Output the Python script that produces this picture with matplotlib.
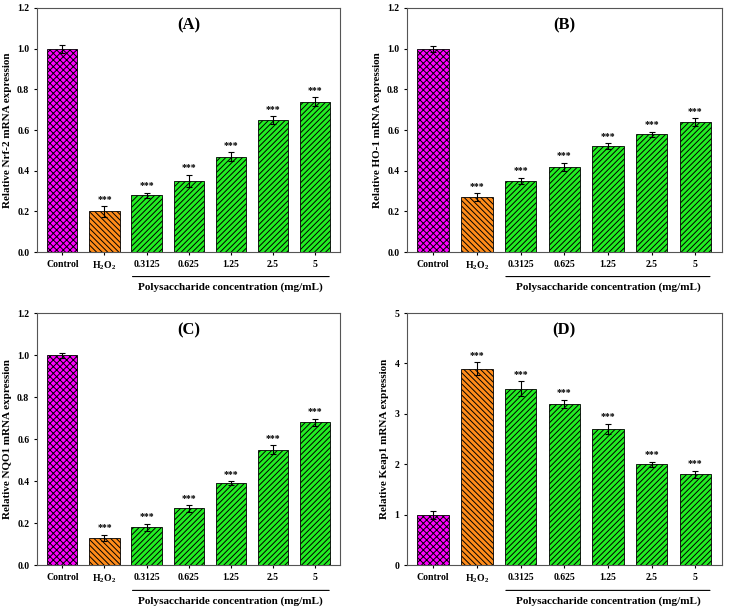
import matplotlib
matplotlib.use("Agg")
import matplotlib.pyplot as plt
import numpy as np

plt.rcParams.update({
    "font.family": ["Liberation Serif", "DejaVu Serif"],
    "font.weight": "bold",
    "hatch.linewidth": 0.7,
    "mathtext.fontset": "custom",
    "mathtext.rm": "Liberation Serif:bold",
    "mathtext.default": "rm",
})

groups = ["Control", "H$_2$O$_2$", "0.3125", "0.625", "1.25", "2.5", "5"]

nrf2 = [1.00, 0.20, 0.28, 0.35, 0.47, 0.65, 0.74]
nrf2_err = [0.02, 0.025, 0.012, 0.03, 0.02, 0.018, 0.022]
ho1 = [1.00, 0.27, 0.35, 0.42, 0.52, 0.58, 0.64]
ho1_err = [0.015, 0.02, 0.015, 0.02, 0.015, 0.012, 0.018]
nqo1 = [1.00, 0.13, 0.18, 0.27, 0.39, 0.55, 0.68]
nqo1_err = [0.012, 0.015, 0.018, 0.015, 0.01, 0.02, 0.018]
keap1 = [1.00, 3.90, 3.50, 3.20, 2.70, 2.00, 1.80]
keap1_err = [0.08, 0.12, 0.15, 0.08, 0.1, 0.05, 0.07]

panels = [
    ("(A)", "Relative Nrf-2 mRNA expression", nrf2, nrf2_err, 1.2, [0.05, 0.59, 0.41, 0.397]),
    ("(B)", "Relative HO-1 mRNA expression", ho1, ho1_err, 1.2, [0.55, 0.59, 0.425, 0.397]),
    ("(C)", "Relative NQO1 mRNA expression", nqo1, nqo1_err, 1.2, [0.05, 0.081, 0.41, 0.41]),
    ("(D)", "Relative Keap1 mRNA expression", keap1, keap1_err, 5, [0.55, 0.081, 0.425, 0.41]),
]

colors = ["#ff00ff", "#ff8c1a", "#22ee22", "#22ee22", "#22ee22", "#22ee22", "#22ee22"]
hatches = ["xxxxx", "\\\\\\\\\\\\", "//////", "//////", "//////", "//////", "//////"]

fig = plt.figure(figsize=(7.4, 6.15), dpi=100)
for title, ylabel, vals, errs, ymax, rect in panels:
    ax = fig.add_axes(rect)
    x = np.arange(len(vals))
    for i in x:
        ax.bar(i, vals[i], width=0.72, color=colors[i], hatch=hatches[i],
               edgecolor="black", linewidth=0.6)
    ax.errorbar(x, vals, yerr=errs, fmt="none", ecolor="black",
                elinewidth=0.8, capsize=2.5, capthick=0.8)
    for i in x[1:]:
        ax.text(i, vals[i] + errs[i] + ymax * 0.01, "***", ha="center",
                va="bottom", fontsize=7)
    ax.set_xlim(-0.6, 6.6)
    ax.set_ylim(0, ymax)
    if ymax == 5:
        ax.set_yticks(range(0, 6))
    else:
        ax.set_yticks(np.arange(0, 1.21, 0.2))
        ax.set_yticklabels([f"{t:.1f}" for t in np.arange(0, 1.21, 0.2)])
    ax.set_xticks(x)
    ax.set_xticklabels(groups)
    ax.tick_params(labelsize=7, length=2, direction="out")
    ax.set_ylabel(ylabel, fontsize=8, fontweight="bold")
    ax.text(0.5, 0.93, title, transform=ax.transAxes, ha="center", va="center",
            fontsize=12, fontweight="bold")
    for s in ax.spines.values():
        s.set_color("#555555")
        s.set_linewidth(0.8)
    # bracket under concentration ticks
    ax.annotate("", xy=(1.6, -0.1), xytext=(6.4, -0.1),
                xycoords=("data", "axes fraction"),
                arrowprops=dict(arrowstyle="-", lw=0.8, color="black"))
    ax.text(4.0, -0.125, "Polysaccharide concentration (mg/mL)",
            transform=ax.get_xaxis_transform(), ha="center", va="top", fontsize=8)

fig.savefig("out.png", dpi=100)
